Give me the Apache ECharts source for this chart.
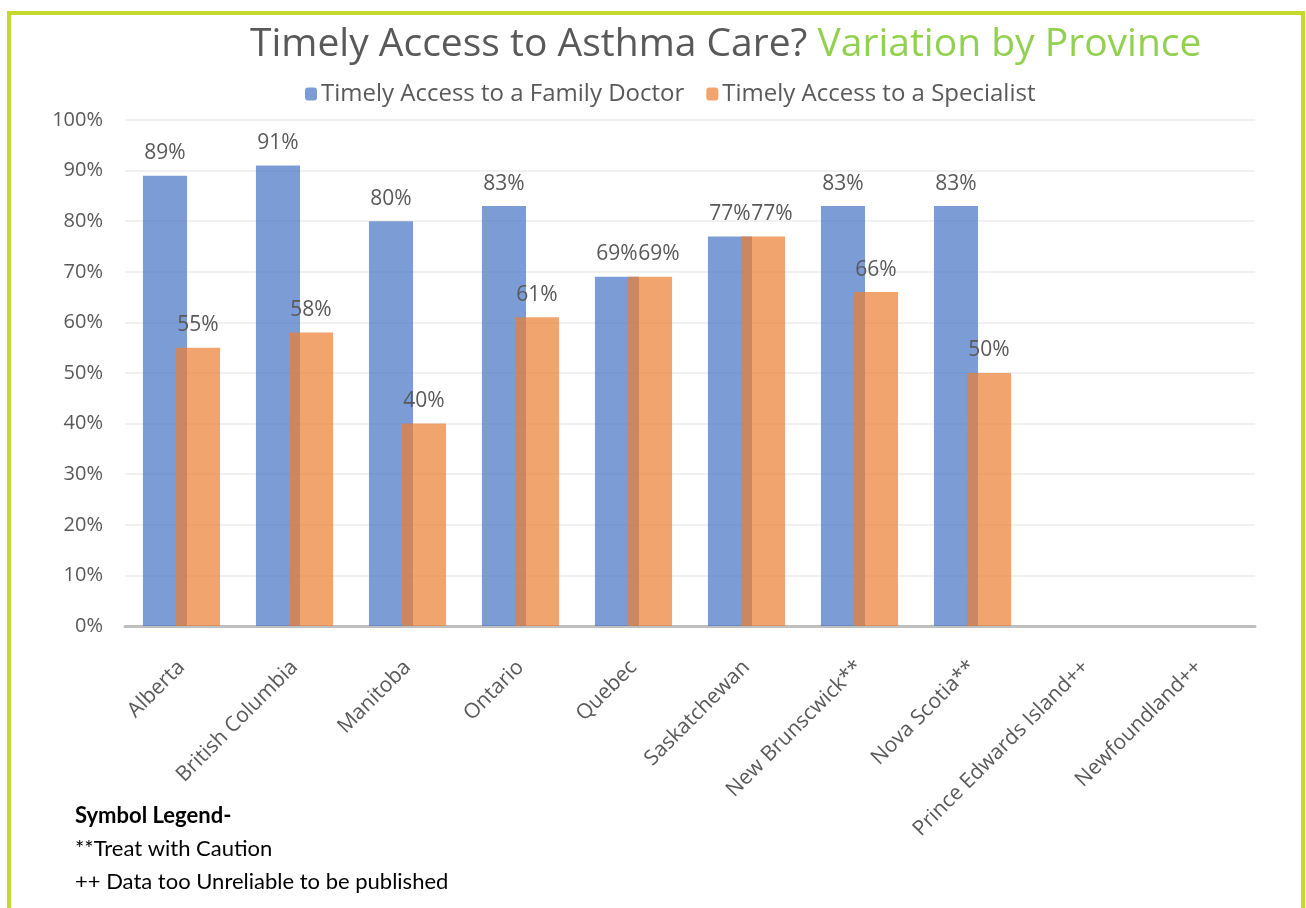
<!DOCTYPE html>
<html>
<head>
<meta charset="utf-8">
<script src="https://cdn.jsdelivr.net/npm/echarts@6/dist/echarts.min.js"></script>
<style>
  html, body { margin: 0; padding: 0; background: #fff; }
  #chart { width: 1306px; height: 908px; }
</style>
</head>
<body>
<div id="chart"></div>
<script>
var provinces = ['Alberta', 'British Columbia', 'Manitoba', 'Ontario', 'Quebec', 'Saskatchewan',
    'New Brunscwick**', 'Nova Scotia**', 'Prince Edwards Island++', 'Newfoundland++'];
// percent, null = not published
var familyDoctor = [89, 91, 80, 83, 69, 77, 83, 83, null, null];
var specialist = [55, 58, 40, 61, 69, 77, 66, 50, null, null];
var yTicks = [0, 10, 20, 30, 40, 50, 60, 70, 80, 90, 100];

var grey = '#595959';
var chart = echarts.init(document.getElementById('chart'));

var labelStyle = {
    show: true,
    position: 'top',
    distance: 12,
    color: grey,
    opacity: 1,
    fontSize: 21,
    fontFamily: 'Open Sans',
    formatter: function (p) { return p.value + '%'; }
};

chart.setOption({
    animation: false,
    textStyle: { fontFamily: 'Open Sans' },
    title: {
        text: '{a|Timely Access to Asthma Care? }{b|Variation by Province}',
        left: 245,
        top: 20,
        textStyle: {
            fontWeight: 'normal',
            rich: {
                a: { fontSize: 39, color: grey, fontFamily: 'Open Sans', fontWeight: 'normal' },
                b: { fontSize: 39, color: '#92d050', fontFamily: 'Open Sans', fontWeight: 'normal' }
            }
        }
    },
    legend: {
        left: 300,
        top: 77,
        itemWidth: 12,
        itemHeight: 13,
        itemGap: 22,
        textStyle: { fontSize: 24, color: grey, fontFamily: 'Open Sans', padding: [0, 0, 0, -1] },
        data: ['Timely Access to a Family Doctor', 'Timely Access to a Specialist']
    },
    grid: { left: 125, right: 51, top: 120, bottom: 282, containLabel: false },
    xAxis: {
        type: 'category',
        data: provinces,
        axisLine: { lineStyle: { color: '#bfbfbf', width: 3 } },
        axisTick: { show: false },
        axisLabel: { rotate: 45, margin: 38, fontSize: 21, color: grey, interval: 0 }
    },
    yAxis: {
        type: 'value',
        min: yTicks[0],
        max: yTicks[yTicks.length - 1],
        interval: 10,
        axisLine: { show: false },
        axisTick: { show: false },
        splitLine: { lineStyle: { color: '#ececec', width: 1.5 } },
        axisLabel: { fontSize: 20, color: grey, margin: 22, formatter: '{value}%' }
    },
    series: [
        {
            name: 'Timely Access to a Family Doctor',
            type: 'bar',
            data: familyDoctor,
            barWidth: '39%',
            barGap: '-25%',
            itemStyle: { color: '#4472c4', opacity: 0.7 },
            label: labelStyle
        },
        {
            name: 'Timely Access to a Specialist',
            type: 'bar',
            data: specialist,
            barWidth: '39%',
            itemStyle: { color: '#ed7d31', opacity: 0.7 },
            label: labelStyle,
            // same height as the blue bar: nudge the label right so the two don't collide
            labelLayout: function (p) {
                return specialist[p.dataIndex] === familyDoctor[p.dataIndex] ? { dx: 9 } : {};
            }
        }
    ],
    graphic: [
        {
            type: 'polyline',
            shape: { points: [[9, 908], [9, 13], [1303, 13], [1303, 908]] },
            style: { stroke: '#c5d92d', lineWidth: 4, fill: null }
        },
        {
            type: 'text', left: 75, top: 805,
            style: { text: 'Symbol Legend-', fontSize: 22, fontWeight: 'bold', fill: '#000', fontFamily: 'Lato' }
        },
        {
            type: 'text', left: 75, top: 838,
            style: { text: '**Treat with Caution', fontSize: 22, fill: '#000', fontFamily: 'Lato' }
        },
        {
            type: 'text', left: 75, top: 871,
            style: { text: '++ Data too Unreliable to be published', fontSize: 22, fill: '#000', fontFamily: 'Lato' }
        }
    ]
});
</script>
</body>
</html>
